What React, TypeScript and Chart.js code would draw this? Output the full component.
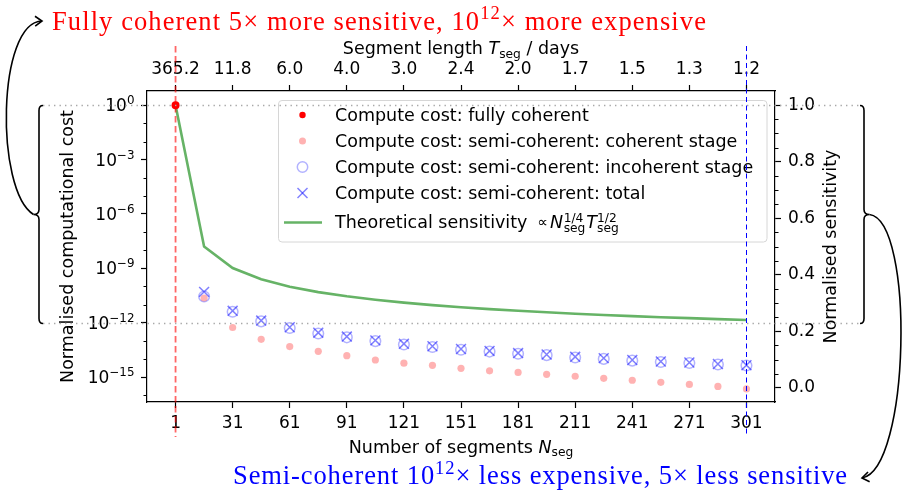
import { useEffect, useRef } from 'react';
import { Chart, registerables } from 'chart.js';

Chart.register(...registerables);

// Number of segments a one-year observation is split into
const segmentCounts = [1, 16, 31, 46, 61, 76, 91, 106, 121, 136, 151, 166, 181, 196, 211, 226, 241, 256, 271, 286, 301];
const semiSegmentCounts = segmentCounts.slice(1);

// Normalised compute cost
const fullyCoherentCost = [1];
const coherentStageCost = [2.3e-11, 5.4e-13, 1.2e-13, 4.8e-14, 2.6e-14, 1.5e-14, 8.7e-15, 5.8e-15, 4.4e-15, 3.0e-15, 2.2e-15, 1.8e-15, 1.4e-15, 1.1e-15, 8.5e-16, 6.6e-16, 5.1e-16, 3.9e-16, 3.0e-16, 2.2e-16];
const incoherentStageCost = [2.8e-11, 4.0e-12, 1.18e-12, 5.1e-13, 2.54e-13, 1.55e-13, 9.6e-14, 6.2e-14, 4.56e-14, 3.2e-14, 2.53e-14, 1.92e-14, 1.61e-14, 1.19e-14, 1.0e-14, 8.0e-15, 6.7e-15, 5.9e-15, 4.9e-15, 4.3e-15];
const totalSemiCoherentCost = [5.0e-11, 4.5e-12, 1.3e-12, 5.6e-13, 2.8e-13, 1.7e-13, 1.05e-13, 6.8e-14, 5.0e-14, 3.5e-14, 2.75e-14, 2.1e-14, 1.75e-14, 1.3e-14, 1.1e-14, 8.7e-15, 7.2e-15, 6.3e-15, 5.2e-15, 4.5e-15];

// Normalised sensitivity for each segment count
const normalisedSensitivity = [1.0, 0.5, 0.4238, 0.384, 0.3578, 0.3387, 0.3238, 0.3117, 0.3015, 0.2928, 0.2853, 0.2786, 0.2726, 0.2673, 0.2624, 0.2579, 0.2538, 0.25, 0.2465, 0.2432, 0.2401];

// Axis ticks
const segmentTicks = [1, 31, 61, 91, 121, 151, 181, 211, 241, 271, 301];
const segmentLengthLabels = ['365.2', '11.8', '6.0', '4.0', '3.0', '2.4', '2.0', '1.7', '1.5', '1.3', '1.2'];
const costTickExponents = [0, -3, -6, -9, -12, -15];
const costMinorExponents = [-1, -2, -4, -5, -7, -8, -10, -11, -13, -14, -16];
const sensitivityTicks = [0, 0.2, 0.4, 0.6, 0.8, 1.0];

// Reference markers
const fullyCoherentCount = 1;
const semiCoherentCount = 301;
const bracedCosts = [1, 1e-12];

const legendLabels = [
  'Compute cost: fully coherent',
  'Compute cost: semi-coherent: coherent stage',
  'Compute cost: semi-coherent: incoherent stage',
  'Compute cost: semi-coherent: total',
  'Theoretical sensitivity',
];

const SANS = '"DejaVu Sans", sans-serif';
const SERIF = '"Liberation Serif", "DejaVu Serif", serif';
const TICK_SIZE = 17;
const LABEL_SIZE = 17.5;
const NOTE_SIZE = 26.5;

const RED = '#ff0000';
const PINK = 'rgba(255,0,0,0.3)';
const CIRCLE_BLUE = 'rgba(0,0,255,0.3)';
const CROSS_BLUE = 'rgba(0,0,255,0.5)';
const GREEN = '#66b366';

type Run = { text: string; font: string; dy?: number };

function sans(size: number, italic = false) {
  return `${italic ? 'italic ' : ''}${size}px ${SANS}`;
}

function runsWidth(ctx: CanvasRenderingContext2D, runs: Run[]) {
  let w = 0;
  for (const r of runs) {
    ctx.font = r.font;
    w += ctx.measureText(r.text).width;
  }
  return w;
}

function drawRuns(ctx: CanvasRenderingContext2D, runs: Run[], x: number, y: number, align: 'left' | 'center') {
  const w = runsWidth(ctx, runs);
  let cx = align === 'left' ? x : x - w / 2;
  ctx.textAlign = 'left';
  ctx.textBaseline = 'alphabetic';
  for (const r of runs) {
    ctx.font = r.font;
    ctx.fillText(r.text, cx, y + (r.dy || 0));
    cx += ctx.measureText(r.text).width;
  }
}

function line(ctx: CanvasRenderingContext2D, x1: number, y1: number, x2: number, y2: number) {
  ctx.beginPath();
  ctx.moveTo(x1, y1);
  ctx.lineTo(x2, y2);
  ctx.stroke();
}

// Curly brace spanning yTop..yBot; dir = -1 points left, +1 points right
function brace(ctx: CanvasRenderingContext2D, xEnd: number, yTop: number, yBot: number, dir: number) {
  const spine = xEnd + dir * 4;
  const tip = xEnd + dir * 9.5;
  const mid = (yTop + yBot) / 2;
  ctx.beginPath();
  ctx.moveTo(xEnd, yTop);
  ctx.quadraticCurveTo(spine, yTop, spine, yTop + 5);
  ctx.lineTo(spine, mid - 5);
  ctx.quadraticCurveTo(spine, mid, tip, mid);
  ctx.quadraticCurveTo(spine, mid, spine, mid + 5);
  ctx.lineTo(spine, yBot - 5);
  ctx.quadraticCurveTo(spine, yBot, xEnd, yBot);
  ctx.stroke();
}

function curvedArrow(
  ctx: CanvasRenderingContext2D,
  p0: [number, number], p1: [number, number], p2: [number, number], p3: [number, number],
) {
  ctx.beginPath();
  ctx.moveTo(p0[0], p0[1]);
  ctx.bezierCurveTo(p1[0], p1[1], p2[0], p2[1], p3[0], p3[1]);
  ctx.stroke();
  const ang = Math.atan2(p3[1] - p2[1], p3[0] - p2[0]);
  const len = 8.5;
  const spread = 0.62;
  ctx.beginPath();
  ctx.moveTo(p3[0] - len * Math.cos(ang - spread), p3[1] - len * Math.sin(ang - spread));
  ctx.lineTo(p3[0], p3[1]);
  ctx.lineTo(p3[0] - len * Math.cos(ang + spread), p3[1] - len * Math.sin(ang + spread));
  ctx.stroke();
}

// Serif note with a superscript exponent, tracked out to span the given width
function drawNote(ctx: CanvasRenderingContext2D, parts: string[], x: number, y: number, width: number) {
  const s = NOTE_SIZE;
  const runs: Run[] = [
    { text: parts[0], font: `${s}px ${SERIF}` },
    { text: parts[1], font: `${s * 0.7}px ${SERIF}`, dy: -s * 0.38 },
    { text: parts[2], font: `${s}px ${SERIF}` },
  ];
  const natural = runsWidth(ctx, runs);
  const chars = parts.join('').length;
  const spacing = Math.max(0, (width - natural) / chars);
  const c = ctx as any;
  const prev = c.letterSpacing;
  c.letterSpacing = `${spacing}px`;
  let cx = x;
  ctx.textAlign = 'left';
  ctx.textBaseline = 'alphabetic';
  for (const r of runs) {
    ctx.font = r.font;
    ctx.fillText(r.text, cx, y + (r.dy || 0));
    cx += ctx.measureText(r.text).width;
  }
  c.letterSpacing = prev || '0px';
}

function drawLegend(ctx: CanvasRenderingContext2D) {
  const bx = 278.5, by = 100.5, bw = 488.5, bh = 141.5, r = 3.5;
  ctx.beginPath();
  ctx.moveTo(bx + r, by);
  ctx.arcTo(bx + bw, by, bx + bw, by + bh, r);
  ctx.arcTo(bx + bw, by + bh, bx, by + bh, r);
  ctx.arcTo(bx, by + bh, bx, by, r);
  ctx.arcTo(bx, by, bx + bw, by, r);
  ctx.closePath();
  ctx.fillStyle = 'rgba(255,255,255,0.8)';
  ctx.fill();
  ctx.strokeStyle = '#d6d6d6';
  ctx.lineWidth = 1;
  ctx.stroke();

  const mx = 302.5;
  const tx = 335;
  const baselines = [121, 147, 173, 199, 228];
  const centers = baselines.map((b) => b - 6);

  // markers
  ctx.fillStyle = RED;
  ctx.beginPath();
  ctx.arc(mx, centers[0], 3.2, 0, Math.PI * 2);
  ctx.fill();
  ctx.fillStyle = PINK;
  ctx.beginPath();
  ctx.arc(mx, centers[1], 3.5, 0, Math.PI * 2);
  ctx.fill();
  ctx.strokeStyle = CIRCLE_BLUE;
  ctx.lineWidth = 1.5;
  ctx.beginPath();
  ctx.arc(mx, centers[2], 5.2, 0, Math.PI * 2);
  ctx.stroke();
  ctx.strokeStyle = CROSS_BLUE;
  line(ctx, mx - 5, centers[3] - 5, mx + 5, centers[3] + 5);
  line(ctx, mx - 5, centers[3] + 5, mx + 5, centers[3] - 5);
  ctx.strokeStyle = GREEN;
  ctx.lineWidth = 2.5;
  line(ctx, 284, centers[4] + 0.5, 322, centers[4] + 0.5);

  // labels
  ctx.fillStyle = '#000';
  ctx.textAlign = 'left';
  ctx.textBaseline = 'alphabetic';
  ctx.font = sans(LABEL_SIZE);
  for (let i = 0; i < 4; i++) ctx.fillText(legendLabels[i], tx, baselines[i]);

  const b = baselines[4];
  ctx.font = sans(LABEL_SIZE);
  ctx.fillText(legendLabels[4], tx, b);
  let cx = tx + ctx.measureText(legendLabels[4]).width + 10;
  ctx.font = sans(LABEL_SIZE * 0.85);
  ctx.fillText('∝', cx, b - 1);
  cx += ctx.measureText('∝').width + 2;
  const script = LABEL_SIZE * 0.7;
  const symbols: [string, string][] = [['N', '1/4'], ['T', '1/2']];
  for (const [sym, sup] of symbols) {
    ctx.font = sans(LABEL_SIZE, true);
    ctx.fillText(sym, cx, b);
    cx += ctx.measureText(sym).width + (sym === 'T' ? 0 : 0.5);
    ctx.font = sans(script);
    ctx.fillText(sup, cx, b - 6.5);
    const w1 = ctx.measureText(sup).width;
    ctx.fillText('seg', cx, b + 3.8);
    const w2 = ctx.measureText('seg').width;
    cx += Math.max(w1, w2) + 1;
  }
}

const annotationPlugin = {
  id: 'costAnnotations',
  afterDraw(chart: any) {
    const { ctx, scales } = chart;
    const xs = scales.x;
    const ys = scales.y;
    const ys1 = scales.y1;
    const area = chart.chartArea;
    ctx.save();

    // minor ticks
    ctx.strokeStyle = '#000';
    ctx.lineWidth = 1;
    for (const k of costMinorExponents) {
      const py = Math.round(ys.getPixelForValue(Math.pow(10, k))) + 0.5;
      if (py < area.top || py > area.bottom) continue;
      line(ctx, area.left - 3.5, py, area.left, py);
    }
    for (let i = 1; i < 20; i++) {
      if (i % 4 === 0) continue;
      const py = Math.round(ys1.getPixelForValue(i * 0.05)) + 0.5;
      line(ctx, area.right, py, area.right + 3.5, py);
    }

    // cost tick labels, 10 with a superscript exponent
    ctx.fillStyle = '#000';
    for (const k of costTickExponents) {
      const py = ys.getPixelForValue(Math.pow(10, k));
      const exp = k === 0 ? '0' : '−' + String(-k);
      ctx.font = sans(TICK_SIZE * 0.7);
      const we = ctx.measureText(exp).width;
      ctx.font = sans(TICK_SIZE);
      const wb = ctx.measureText('10').width;
      const right = area.left - 12.5;
      ctx.textAlign = 'left';
      ctx.textBaseline = 'alphabetic';
      ctx.fillText('10', right - we - wb, py + 6);
      ctx.font = sans(TICK_SIZE * 0.7);
      ctx.fillText(exp, right - we, py - 1);
    }

    // axis titles
    drawRuns(ctx, [
      { text: 'Number of segments ', font: sans(LABEL_SIZE) },
      { text: 'N', font: sans(LABEL_SIZE, true) },
      { text: 'seg', font: sans(LABEL_SIZE * 0.7), dy: 3.8 },
    ], (area.left + area.right) / 2, 452.5, 'center');
    drawRuns(ctx, [
      { text: 'Segment length ', font: sans(LABEL_SIZE) },
      { text: 'T', font: sans(LABEL_SIZE, true) },
      { text: 'seg', font: sans(LABEL_SIZE * 0.7), dy: 3.8 },
      { text: ' / days', font: sans(LABEL_SIZE) },
    ], (area.left + area.right) / 2, 54.3, 'center');
    const midY = (area.top + area.bottom) / 2;
    ctx.font = sans(LABEL_SIZE);
    ctx.textAlign = 'center';
    ctx.textBaseline = 'alphabetic';
    ctx.save();
    ctx.translate(72.5, midY);
    ctx.rotate(-Math.PI / 2);
    ctx.fillText('Normalised computational cost', 0, 0);
    ctx.restore();
    ctx.save();
    ctx.translate(836, midY);
    ctx.rotate(-Math.PI / 2);
    ctx.fillText('Normalised sensitivity', 0, 0);
    ctx.restore();

    drawLegend(ctx);

    // horizontal dotted guides at the braced costs
    const guideYs = bracedCosts.map((c) => Math.round(ys.getPixelForValue(c)) + 0.5);
    ctx.strokeStyle = '#a8a8a8';
    ctx.lineWidth = 1.3;
    ctx.setLineDash([1.4, 4.1]);
    for (const gy of guideYs) line(ctx, 43, gy, 860, gy);

    // vertical dashed markers
    const xFull = xs.getPixelForValue(fullyCoherentCount);
    const xSemi = Math.round(xs.getPixelForValue(semiCoherentCount)) + 0.5;
    ctx.setLineDash([6.5, 3.5]);
    ctx.strokeStyle = 'rgba(255,0,0,0.6)';
    ctx.lineWidth = 1.8;
    line(ctx, xFull, 46, xFull, 437);
    ctx.setLineDash([5, 3.5]);
    ctx.strokeStyle = '#0000ff';
    ctx.lineWidth = 1;
    line(ctx, xSemi, 46, xSemi, 437);
    ctx.setLineDash([]);

    // braces and arrows
    ctx.strokeStyle = '#000';
    ctx.lineWidth = 1.6;
    brace(ctx, 43, guideYs[0], guideYs[1], -1);
    brace(ctx, 860, guideYs[0], guideYs[1], 1);
    const braceMid = (guideYs[0] + guideYs[1]) / 2;
    curvedArrow(ctx, [33.5, braceMid], [-5, braceMid - 24], [-3, 22], [42, 21]);
    curvedArrow(ctx, [869.5, braceMid], [915, braceMid + 6], [910, 470], [862, 478]);

    // annotations
    ctx.fillStyle = RED;
    drawNote(ctx, ['Fully coherent 5× more sensitive, 10', '12', '× more expensive'], 52, 29.5, 655);
    ctx.fillStyle = '#0000ff';
    drawNote(ctx, ['Semi-coherent 10', '12', '× less expensive, 5× less sensitive'], 233, 484, 615);

    ctx.restore();
  },
};

function axisCommon(extra: any) {
  return {
    grid: { drawOnChartArea: false, drawTicks: true, tickLength: 6, color: '#000', tickWidth: 1.2 },
    border: { display: true, color: '#000', width: 1.2 },
    ...extra,
  };
}

export default function App() {
  const canvasRef = useRef<HTMLCanvasElement>(null);

  useEffect(() => {
    const canvas = canvasRef.current;
    if (!canvas) return;
    const tickFont = { family: SANS, size: TICK_SIZE };

    const chart = new Chart(canvas, {
      type: 'scatter',
      data: {
        datasets: [
          {
            label: legendLabels[0],
            data: fullyCoherentCost.map((c) => ({ x: fullyCoherentCount, y: c })),
            xAxisID: 'x',
            yAxisID: 'y',
            pointRadius: 4,
            pointBackgroundColor: RED,
            pointBorderColor: RED,
            pointBorderWidth: 0,
            backgroundColor: RED,
            borderColor: RED,
          },
          {
            label: legendLabels[3],
            data: semiSegmentCounts.map((n, i) => ({ x: n, y: totalSemiCoherentCost[i] })),
            xAxisID: 'x',
            yAxisID: 'y',
            pointStyle: 'crossRot',
            pointRadius: 7,
            pointBorderWidth: 1.5,
            pointBorderColor: CROSS_BLUE,
            borderColor: CROSS_BLUE,
            backgroundColor: CROSS_BLUE,
          },
          {
            label: legendLabels[1],
            data: semiSegmentCounts.map((n, i) => ({ x: n, y: coherentStageCost[i] })),
            xAxisID: 'x',
            yAxisID: 'y',
            pointRadius: 3.6,
            pointBorderWidth: 0,
            pointBackgroundColor: PINK,
            backgroundColor: PINK,
            borderColor: PINK,
          },
          {
            label: legendLabels[2],
            data: semiSegmentCounts.map((n, i) => ({ x: n, y: incoherentStageCost[i] })),
            xAxisID: 'x',
            yAxisID: 'y',
            pointRadius: 5.3,
            pointBorderWidth: 1.5,
            pointBackgroundColor: 'rgba(0,0,0,0)',
            pointBorderColor: CIRCLE_BLUE,
            backgroundColor: 'rgba(0,0,0,0)',
            borderColor: CIRCLE_BLUE,
          },
          {
            label: legendLabels[4],
            data: segmentCounts.map((n, i) => ({ x: n, y: normalisedSensitivity[i] })),
            xAxisID: 'x',
            yAxisID: 'y1',
            showLine: true,
            pointRadius: 0,
            borderColor: GREEN,
            borderWidth: 2.6,
            backgroundColor: GREEN,
          },
        ],
      },
      options: {
        animation: false,
        responsive: false,
        devicePixelRatio: 1,
        events: [],
        layout: { padding: 0 },
        plugins: { legend: { display: false }, tooltip: { enabled: false } },
        scales: {
          x: axisCommon({
            type: 'linear',
            position: 'bottom',
            min: -14,
            max: 316,
            afterBuildTicks: (s: any) => {
              s.ticks = segmentTicks.map((v) => ({ value: v }));
            },
            afterFit: (s: any) => {
              s.height = 88;
            },
            ticks: { autoSkip: false, maxRotation: 0, font: tickFont, color: '#000', padding: 5, callback: (v: any) => String(v) },
          }),
          x2: axisCommon({
            type: 'linear',
            position: 'top',
            min: -14,
            max: 316,
            afterBuildTicks: (s: any) => {
              s.ticks = segmentTicks.map((v) => ({ value: v }));
            },
            afterFit: (s: any) => {
              s.height = 91;
            },
            ticks: {
              autoSkip: false,
              maxRotation: 0,
              font: tickFont,
              color: '#000',
              padding: 5,
              callback: (_v: any, i: number) => segmentLengthLabels[i],
            },
          }),
          y: axisCommon({
            type: 'logarithmic',
            position: 'left',
            min: Math.pow(10, -16.38),
            max: Math.pow(10, 0.79),
            afterBuildTicks: (s: any) => {
              s.ticks = costTickExponents.map((k) => ({ value: Math.pow(10, k) }));
            },
            afterFit: (s: any) => {
              s.width = 147;
            },
            ticks: { display: false, autoSkip: false },
          }),
          y1: axisCommon({
            type: 'linear',
            position: 'right',
            min: -0.05,
            max: 1.05,
            afterBuildTicks: (s: any) => {
              s.ticks = sensitivityTicks.map((v) => ({ value: v }));
            },
            afterFit: (s: any) => {
              s.width = 128;
            },
            ticks: { autoSkip: false, font: tickFont, color: '#000', padding: 7, callback: (v: any) => Number(v).toFixed(1) },
          }),
        },
      },
      plugins: [annotationPlugin],
    } as any);

    return () => chart.destroy();
  }, []);

  return (
    <div style={{ position: 'absolute', left: 0, top: 0, width: 903, height: 490, background: '#fff' }}>
      <canvas ref={canvasRef} width={903} height={490} style={{ display: 'block', width: 903, height: 490 }} />
    </div>
  );
}
